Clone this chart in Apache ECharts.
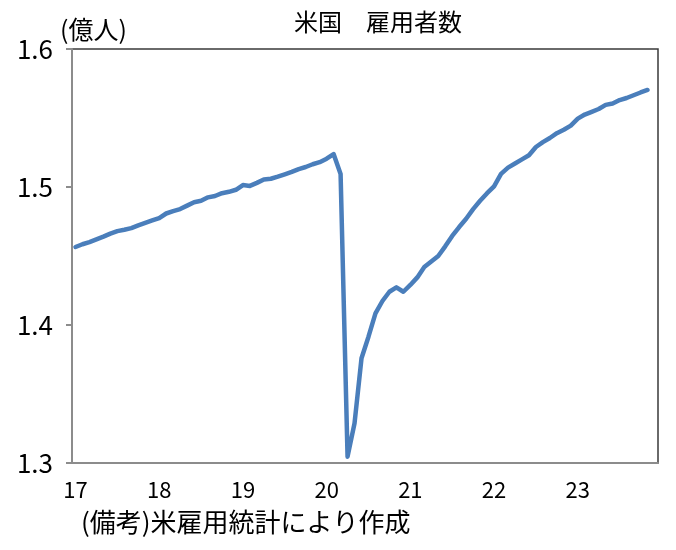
<!DOCTYPE html>
<html>
<head>
<meta charset="utf-8">
<script src="https://cdn.jsdelivr.net/npm/echarts@6/dist/echarts.min.js"></script>
<style>
  html, body { margin: 0; padding: 0; background: #fff; }
  #chart { width: 676px; height: 550px; }
</style>
</head>
<body>
<div id="chart"></div>
<script>
// monthly employment, 100 million persons (Jan..Dec)
const years = ['17', '18', '19', '20', '21', '22', '23'];
const emp2017 = [1.4565, 1.4585, 1.4600, 1.4620, 1.4640, 1.4662, 1.4680, 1.4690, 1.4702, 1.4722, 1.4740, 1.4758];
const emp2018 = [1.4775, 1.4808, 1.4825, 1.4840, 1.4865, 1.4890, 1.4900, 1.4925, 1.4935, 1.4955, 1.4965, 1.4980];
const emp2019 = [1.5014, 1.5008, 1.5030, 1.5055, 1.5060, 1.5075, 1.5092, 1.5110, 1.5130, 1.5145, 1.5165, 1.5180];
const emp2020 = [1.5205, 1.5239, 1.5095, 1.3046, 1.3288, 1.3759, 1.3915, 1.4085, 1.4174, 1.4241, 1.4273, 1.4241];
const emp2021 = [1.4290, 1.4345, 1.4420, 1.4460, 1.4500, 1.4570, 1.4645, 1.4710, 1.4770, 1.4840, 1.4900, 1.4955];
const emp2022 = [1.5005, 1.5095, 1.5140, 1.5170, 1.5200, 1.5230, 1.5290, 1.5325, 1.5355, 1.5390, 1.5415, 1.5445];
const emp2023 = [1.5495, 1.5525, 1.5545, 1.5565, 1.5595, 1.5605, 1.5630, 1.5645, 1.5665, 1.5685, 1.5703, null];
const yTicks = [1.3, 1.4, 1.5, 1.6];

const categories = [];
years.forEach(y => {
  for (let m = 1; m <= 12; m++) categories.push(y + '-' + m);
});
const values = [].concat(emp2017, emp2018, emp2019, emp2020, emp2021, emp2022, emp2023);

const jp = '"Noto Sans CJK JP", sans-serif';

const getOption = () => {
  return {
    animation: false,
    grid: {
      left: 72, right: 18, top: 49, bottom: 87,
      show: true,
      borderColor: '#3a3a3a',
      borderWidth: 1.5
    },
    title: {
      text: '米国\u3000雇用者数',
      left: 373,
      top: 5,
      textAlign: 'center',
      textStyle: { fontFamily: jp, fontSize: 24, fontWeight: 'normal', color: '#000' }
    },
    graphic: [
      {
        type: 'text', left: 60, top: 17,
        style: { text: '(億人)', font: '25px ' + jp, fill: '#000' }
      },
      {
        type: 'text', left: 81, top: 509,
        style: { text: '(備考)米雇用統計により作成', font: '26px ' + jp, fill: '#000' }
      }
    ],
    xAxis: {
      type: 'category',
      data: categories,
      boundaryGap: true,
      axisLine: { lineStyle: { color: '#8c8c8c', width: 2 } },
      axisTick: { show: false },
      axisLabel: {
        interval: (i, v) => v.endsWith('-1'),
        formatter: v => v.split('-')[0],
        margin: 16,
        fontFamily: jp,
        fontSize: 22,
        color: '#000'
      }
    },
    yAxis: {
      type: 'value',
      min: yTicks[0],
      max: yTicks[yTicks.length - 1],
      interval: 0.1,
      splitLine: { show: false },
      axisLine: { show: true, lineStyle: { color: '#8c8c8c', width: 2 } },
      axisTick: { show: true, length: 6, lineStyle: { color: '#8c8c8c', width: 2 } },
      axisLabel: {
        formatter: v => v.toFixed(1),
        margin: 19,
        fontFamily: jp,
        fontSize: 26,
        color: '#000'
      }
    },
    series: [
      {
        type: 'line',
        data: values,
        symbol: 'none',
        connectNulls: false,
        lineStyle: { color: '#4a7ebb', width: 4.5, cap: 'round', join: 'round' }
      }
    ]
  };
};

window.addEventListener('load', () => {
  const chart = echarts.init(document.getElementById('chart'));
  chart.setOption(getOption());
});
</script>
</body>
</html>
